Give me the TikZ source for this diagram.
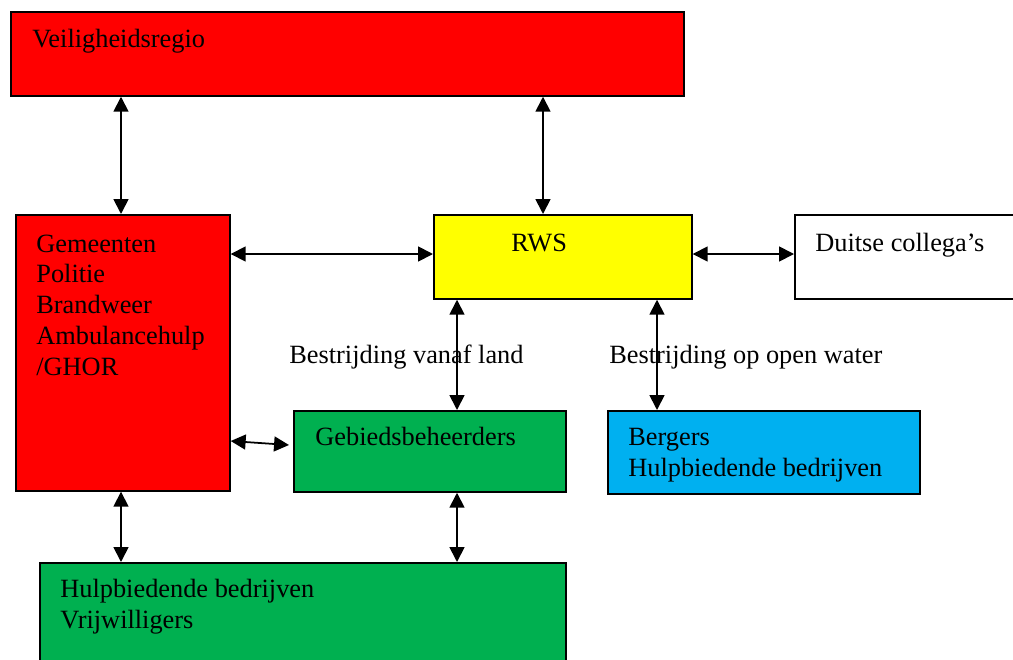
\documentclass[tikz,border=0pt]{standalone}
\usepackage{fontspec}
\setmainfont{Liberation Serif}
\usetikzlibrary{arrows.meta}
\definecolor{vrred}{HTML}{FF0000}
\definecolor{rwsyellow}{HTML}{FFFF00}
\definecolor{gebgreen}{HTML}{00B050}
\definecolor{bercyan}{HTML}{00B0F0}
\begin{document}
\begin{tikzpicture}[x=0.02cm,y=-0.02cm,
	box/.style={draw=black,line width=1pt,rectangle,anchor=north west,inner sep=0pt},
	txt/.style={anchor=base west,inner sep=0pt,align=left,font=\fontsize{15}{17.5}\selectfont},
	biarrow/.style={line width=1pt,{Triangle[length=8.5pt,width=8.5pt]}-{Triangle[length=8.5pt,width=8.5pt]}}]
	\useasboundingbox (0,0) rectangle (1013,659);
	\clip (0,0) rectangle (1013,659);
	% boxes
	\node[box,fill=vrred,minimum width=13.46cm,minimum height=1.68cm] (vr) at (10,11) {};
	\node[box,fill=vrred,minimum width=4.28cm,minimum height=5.52cm] (loc) at (15,214) {};
	\node[box,fill=rwsyellow,minimum width=5.16cm,minimum height=1.68cm] (rws) at (433,214) {};
	\node[box,fill=white,minimum width=4.6cm,minimum height=1.68cm] (dui) at (794,214) {};
	\node[box,fill=gebgreen,minimum width=5.44cm,minimum height=1.62cm] (geb) at (293,410) {};
	\node[box,fill=bercyan,minimum width=6.24cm,minimum height=1.66cm] (ber) at (607,410) {};
	\node[box,fill=gebgreen,minimum width=10.52cm,minimum height=2.4cm] (hul) at (39,562) {};
	% texts (base = last line)
	\node[txt] (vrtxt) at (32,47) {Veiligheidsregio};
	\node[txt] (loctxt) at (36,375) {Gemeenten\\Politie\\Brandweer\\Ambulancehulp\\/GHOR};
	\node[txt] (rwstxt) at (511,251) {RWS};
	\node[txt] (duitxt) at (815,251) {Duitse collega’s};
	\node[txt] (gebtxt) at (315,445) {Gebiedsbeheerders};
	\node[txt] (bertxt) at (628,476) {Bergers\\Hulpbiedende bedrijven};
	\node[txt] (hultxt) at (60,628) {Hulpbiedende bedrijven\\Vrijwilligers};
	\node[txt] (land) at (289,363) {Bestrijding vanaf land};
	\node[txt] (water) at (609,363) {Bestrijding op open water};
	% arrows
	\draw[biarrow] (121,0 |- vr.south) -- (121,0 |- loc.north);
	\draw[biarrow] (543,0 |- vr.south) -- (543,0 |- rws.north);
	\draw[biarrow] (loc.east |- 0,254) -- (rws.west |- 0,254);
	\draw[biarrow] (rws.east |- 0,254) -- (dui.west |- 0,254);
	\draw[biarrow] (457,0 |- rws.south) -- (457,0 |- geb.north);
	\draw[biarrow] (657,0 |- rws.south) -- (657,0 |- ber.north);
	\draw[biarrow] (loc.east |- 0,441) -- ([xshift=-0.08cm]geb.west |- 0,445);
	\draw[biarrow] (121,0 |- loc.south) -- (121,0 |- hul.north);
	\draw[biarrow] (457,0 |- geb.south) -- (457,0 |- hul.north);
\end{tikzpicture}
\end{document}
